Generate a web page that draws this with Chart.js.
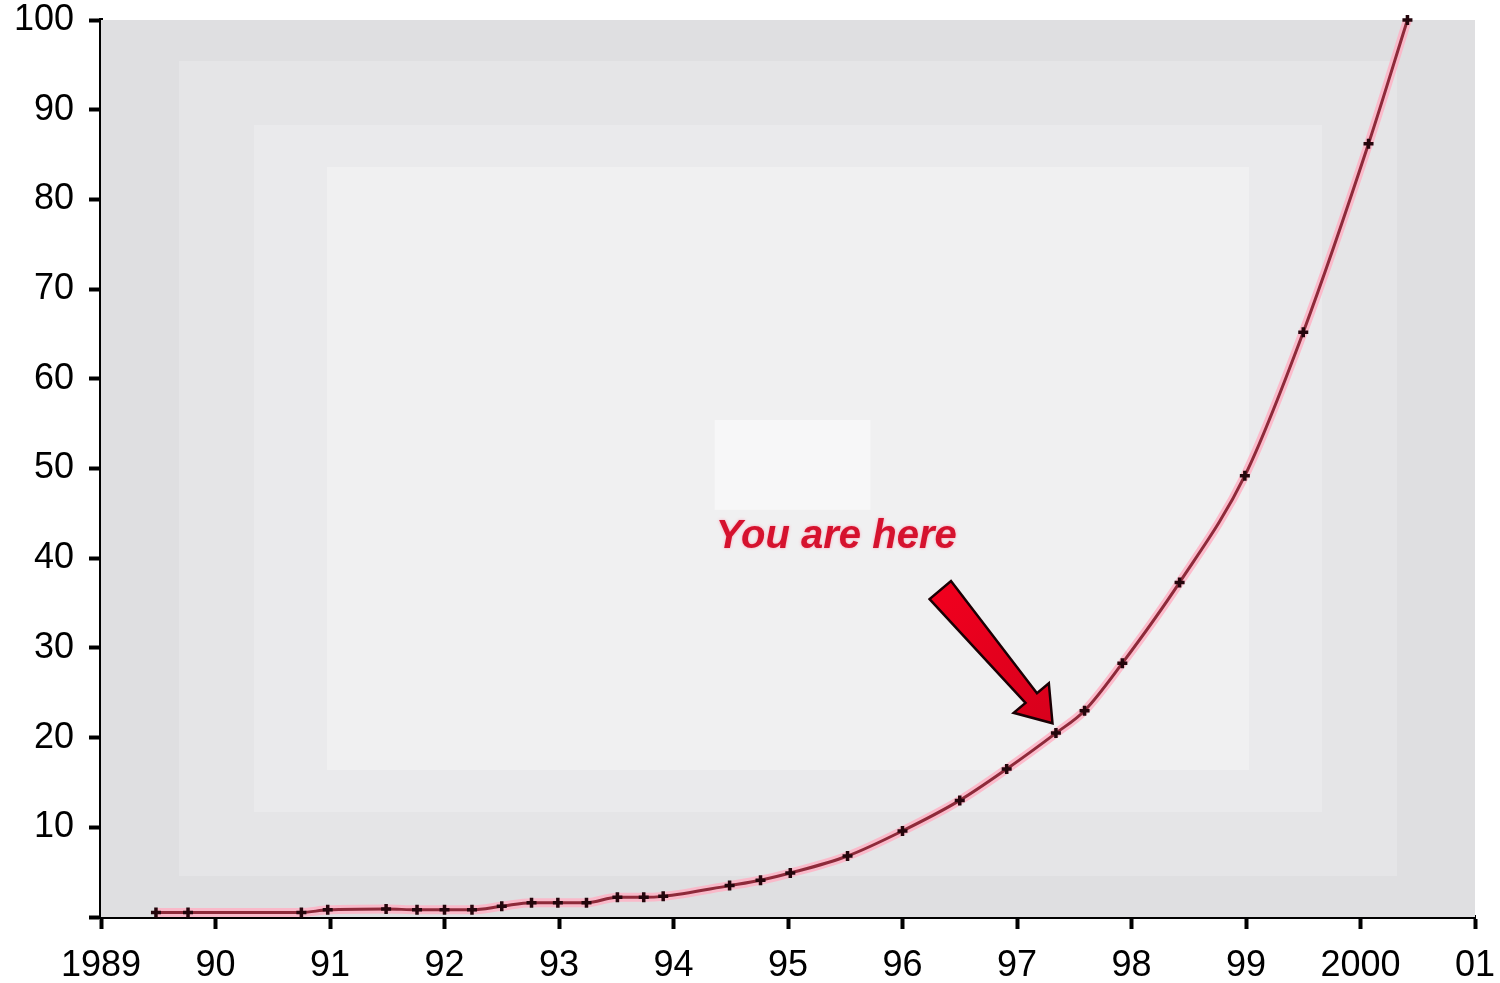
<!DOCTYPE html>
<html>
<head>
<meta charset="utf-8">
<script src="https://cdn.jsdelivr.net/npm/chart.js@4/dist/chart.umd.min.js"></script>
<style>
  html, body { margin: 0; padding: 0; background: #ffffff; }
  #wrap { width: 1500px; height: 983px; }
</style>
</head>
<body>
<div id="wrap"><canvas id="growth" width="1500" height="983"></canvas></div>
<script>
// Measurement dates (fractional years) and the matching readings
const years = [
  1989.48, 1989.76, 1990.75, 1990.98, 1991.49, 1991.76, 1992.00, 1992.24,
  1992.50, 1992.76, 1992.99, 1993.24, 1993.51, 1993.74, 1993.91, 1994.49,
  1994.76, 1995.02, 1995.52, 1996.00, 1996.50, 1996.91, 1997.34, 1997.59,
  1997.92, 1998.42, 1998.99, 1999.50, 2000.07, 2000.41
];
const values = [
  0.5, 0.5, 0.5, 0.8, 0.9, 0.8, 0.8, 0.8,
  1.2, 1.6, 1.6, 1.6, 2.2, 2.2, 2.3, 3.5,
  4.1, 4.9, 6.8, 9.6, 13.0, 16.5, 20.5, 23.0,
  28.3, 37.3, 49.2, 65.2, 86.2, 100
];

// Axis labels
const xTickLabels = ['1989', '90', '91', '92', '93', '94', '95', '96', '97', '98', '99', '2000', '01'];
const yTickMin = 0, yTickMax = 100, yTickStep = 10;
const xMin = 1989, xMax = 2001;

// Callout
const noteText = 'You are here';
const noteAnchor = { x: 1994.37, y: 41.1 };
const arrowTail = { x: 1996.33, y: 36.45 };
const arrowTip = { x: 1997.31, y: 21.6 };

const points = years.map((yr, i) => ({ x: yr, y: values[i] }));

// Stepped grey panel behind the plot, lighter towards the middle
const panelBackground = {
  id: 'panelBackground',
  beforeDatasetsDraw(chart) {
    const { ctx, chartArea: a, scales } = chart;
    const bands = [
      { h: 0,   v: 0,   color: '#dfdfe1' },
      { h: 78,  v: 41,  color: '#e5e5e7' },
      { h: 153, v: 105, color: '#eaeaec' },
      { h: 226, v: 147, color: '#f0f0f1' }
    ];
    ctx.save();
    bands.forEach(b => {
      ctx.fillStyle = b.color;
      ctx.fillRect(a.left + b.h, a.top + b.v, (a.right - a.left) - 2 * b.h, (a.bottom - a.top) - 2 * b.v);
    });
    // pale patch above the callout text
    const x0 = scales.x.getPixelForValue(1994.36), x1 = scales.x.getPixelForValue(1995.72);
    const y0 = scales.y.getPixelForValue(55.4), y1 = scales.y.getPixelForValue(45.4);
    ctx.fillStyle = '#f7f7f8';
    ctx.fillRect(x0, y0, x1 - x0, y1 - y0);
    ctx.restore();
  }
};

// "You are here" label and the pointing arrow
const callout = {
  id: 'callout',
  afterDatasetsDraw(chart) {
    const { ctx, scales } = chart;
    const sx = v => scales.x.getPixelForValue(v);
    const sy = v => scales.y.getPixelForValue(v);
    ctx.save();

    ctx.font = 'italic bold 40px "Liberation Sans", Arial, sans-serif';
    ctx.textAlign = 'left';
    ctx.textBaseline = 'alphabetic';
    ctx.shadowColor = 'rgba(255,140,165,0.85)';
    ctx.shadowBlur = 3;
    ctx.fillStyle = '#d5122e';
    ctx.fillText(noteText, sx(noteAnchor.x), sy(noteAnchor.y));
    ctx.shadowBlur = 0;
    ctx.shadowColor = 'transparent';

    const tx = sx(arrowTail.x), ty = sy(arrowTail.y);
    const hx = sx(arrowTip.x), hy = sy(arrowTip.y);
    const dx = hx - tx, dy = hy - ty;
    const len = Math.hypot(dx, dy);
    const ux = dx / len, uy = dy / len;
    const px = -uy, py = ux;
    const headLen = 33, headW = 46, tailW = 28, neckW = 15;
    const nx = hx - ux * headLen, ny = hy - uy * headLen;
    const pts = [
      [tx + px * tailW / 2, ty + py * tailW / 2],
      [nx + px * neckW / 2, ny + py * neckW / 2],
      [nx + px * headW / 2, ny + py * headW / 2],
      [hx, hy],
      [nx - px * headW / 2, ny - py * headW / 2],
      [nx - px * neckW / 2, ny - py * neckW / 2],
      [tx - px * tailW / 2, ty - py * tailW / 2]
    ];
    const grad = ctx.createLinearGradient(tx, ty, hx, hy);
    grad.addColorStop(0, '#f0001e');
    grad.addColorStop(1, '#d8001c');
    ctx.beginPath();
    pts.forEach((p, i) => i ? ctx.lineTo(p[0], p[1]) : ctx.moveTo(p[0], p[1]));
    ctx.closePath();
    ctx.fillStyle = grad;
    ctx.fill();
    ctx.lineWidth = 2.5;
    ctx.lineJoin = 'miter';
    ctx.strokeStyle = '#1a0004';
    ctx.stroke();
    ctx.restore();
  }
};

const tickFont = { family: '"Liberation Sans", Arial, sans-serif', size: 36 };

new Chart(document.getElementById('growth'), {
  type: 'line',
  data: {
    datasets: [
      {
        // soft pink halo under the curve
        data: points,
        borderColor: 'rgba(255,175,195,0.8)',
        borderWidth: 9,
        pointRadius: 0,
        cubicInterpolationMode: 'monotone',
        clip: false,
        order: 2
      },
      {
        data: points,
        borderColor: '#8e2a3a',
        borderWidth: 3,
        pointStyle: 'cross',
        pointRadius: 5,
        pointBorderWidth: 3.5,
        pointBorderColor: '#24060c',
        pointBackgroundColor: '#24060c',
        cubicInterpolationMode: 'monotone',
        clip: false,
        order: 1
      }
    ]
  },
  options: {
    responsive: false,
    animation: false,
    devicePixelRatio: 1,
    layout: { padding: { top: 20, right: 25, left: 0, bottom: 0 } },
    plugins: { legend: { display: false }, tooltip: { enabled: false } },
    scales: {
      x: {
        type: 'linear',
        min: xMin,
        max: xMax,
        afterFit(scale) {
          scale.height = 66;
          scale.paddingLeft = 0;
          scale.paddingRight = 0;
        },
        ticks: {
          stepSize: 1,
          autoSkip: false,
          maxRotation: 0,
          padding: 15,
          color: '#000',
          font: tickFont,
          callback: (v, i) => xTickLabels[i]
        },
        grid: { drawOnChartArea: false, drawTicks: true, tickLength: 12, tickWidth: 4, tickColor: '#000' },
        border: { display: true, color: '#000', width: 4 }
      },
      y: {
        min: yTickMin,
        max: yTickMax,
        afterFit(scale) {
          scale.width = 101;
          scale.paddingTop = 0;
          scale.paddingBottom = 0;
        },
        ticks: {
          stepSize: yTickStep,
          padding: 15,
          color: '#000',
          font: tickFont,
          callback: v => (v === 0 ? '' : v)
        },
        grid: { drawOnChartArea: false, drawTicks: true, tickLength: 12, tickWidth: 4, tickColor: '#000' },
        border: { display: true, color: '#000', width: 4 }
      }
    }
  },
  plugins: [panelBackground, callout]
});
</script>
</body>
</html>
